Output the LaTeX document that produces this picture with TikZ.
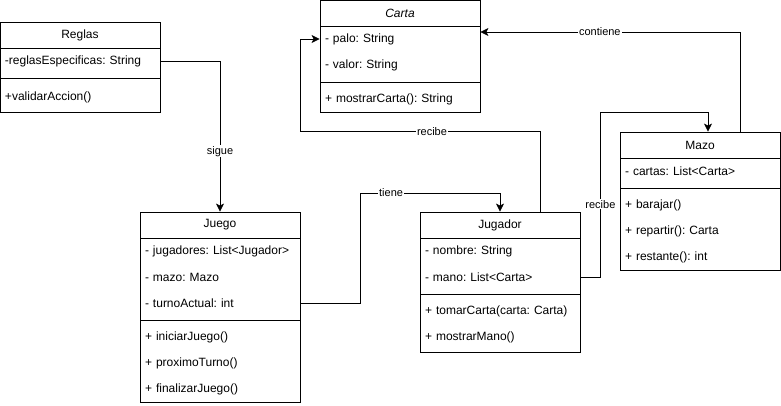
\documentclass[tikz,border=0pt]{standalone}
\usepackage{fontspec}
\setmainfont{Liberation Sans}
\usetikzlibrary{arrows.meta}
\frenchspacing

\begin{document}
\begin{tikzpicture}[
  x=1pt, y=-1pt,
  font=\fontsize{12}{14}\selectfont,
  line width=0.8pt,
  cname/.style={minimum width=160pt, minimum height=26pt, inner sep=0pt},
  crow/.style={text width=150pt, inner xsep=5pt, inner ysep=0pt, minimum height=26pt, align=left},
  rel/.style={draw, -{Stealth[length=8pt, width=8pt, inset=2pt]}},
  rlabel/.style={fill=white, inner sep=1pt, font=\fontsize{11}{13}\selectfont}
]
\useasboundingbox (0,0) rectangle (781,406);
\draw (0,22) rectangle (160,112);
\draw (0,48) -- (160,48);
\draw (0,78) -- (160,78);
\node[cname] (reglas) at (80,35) {Reglas};
\node[crow] (reglas-1) at (80,61) {-reglasEspecificas: String};
\node[crow] (reglas-m1) at (80,97) {+validarAccion()};
\draw (320,0) rectangle (480,112);
\draw (320,26) -- (480,26);
\draw (320,82) -- (480,82);
\node[cname, font=\fontsize{12}{14}\selectfont\itshape] (carta) at (400,13) {Carta};
\node[crow] (carta-1) at (400,39) {- palo: String};
\node[crow] (carta-2) at (400,65) {- valor: String};
\node[crow] (carta-m1) at (400,99) {+ mostrarCarta(): String};
\draw (620,132) rectangle (780,270);
\draw (620,158) -- (780,158);
\draw (620,188) -- (780,188);
\node[cname] (mazo) at (700,145) {Mazo};
\node[crow] (mazo-1) at (700,171) {- cartas: List<Carta>};
\node[crow] (mazo-m1) at (700,205) {+ barajar()};
\node[crow] (mazo-m2) at (700,231) {+ repartir(): Carta};
\node[crow] (mazo-m3) at (700,257) {+ restante(): int};
\draw (140,212) rectangle (300,402);
\draw (140,238) -- (300,238);
\draw (140,320) -- (300,320);
\node[cname] (juego) at (220,225) {Juego};
\node[crow] (juego-1) at (220,251) {- jugadores: List<Jugador>};
\node[crow] (juego-2) at (220,277) {- mazo: Mazo};
\node[crow] (juego-3) at (220,303) {- turnoActual: int};
\node[crow] (juego-m1) at (220,337) {+ iniciarJuego()};
\node[crow] (juego-m2) at (220,363) {+ proximoTurno()};
\node[crow] (juego-m3) at (220,389) {+ finalizarJuego()};
\draw (420,212) rectangle (580,352);
\draw (420,238) -- (580,238);
\draw (420,294) -- (580,294);
\node[cname] (jugador) at (500,225) {Jugador};
\node[crow] (jugador-1) at (500,251) {- nombre: String};
\node[crow] (jugador-2) at (500,277) {- mano: List<Carta>};
\node[crow] (jugador-m1) at (500,311) {+ tomarCarta(carta: Carta)};
\node[crow] (jugador-m2) at (500,337) {+ mostrarMano()};
\draw[rel] (reglas-1.east) -| (juego.north) node[pos=0.8, rlabel] {sigue};
\draw[rel] (juego-3.east) -- ++(60,0) -- ++(0,-110) -| (jugador.north) node[pos=0.11, rlabel] {tiene};
\draw[rel] ([xshift=40pt]jugador.north) -- ++(0,-80) -- ++(-240,0) node[pos=0.45, rlabel] {recibe} |- (carta-1.west);
\draw[rel] (jugador-2.east) -- ++(20,0) -- ++(0,-165) node[pos=0.44, rlabel] {recibe} -| ([xshift=8pt]mazo.north);
\draw[rel] ([xshift=40pt]mazo.north) |- ([yshift=7pt]carta-1.east) node[pos=0.77, rlabel] {contiene};
\end{tikzpicture}
\end{document}
